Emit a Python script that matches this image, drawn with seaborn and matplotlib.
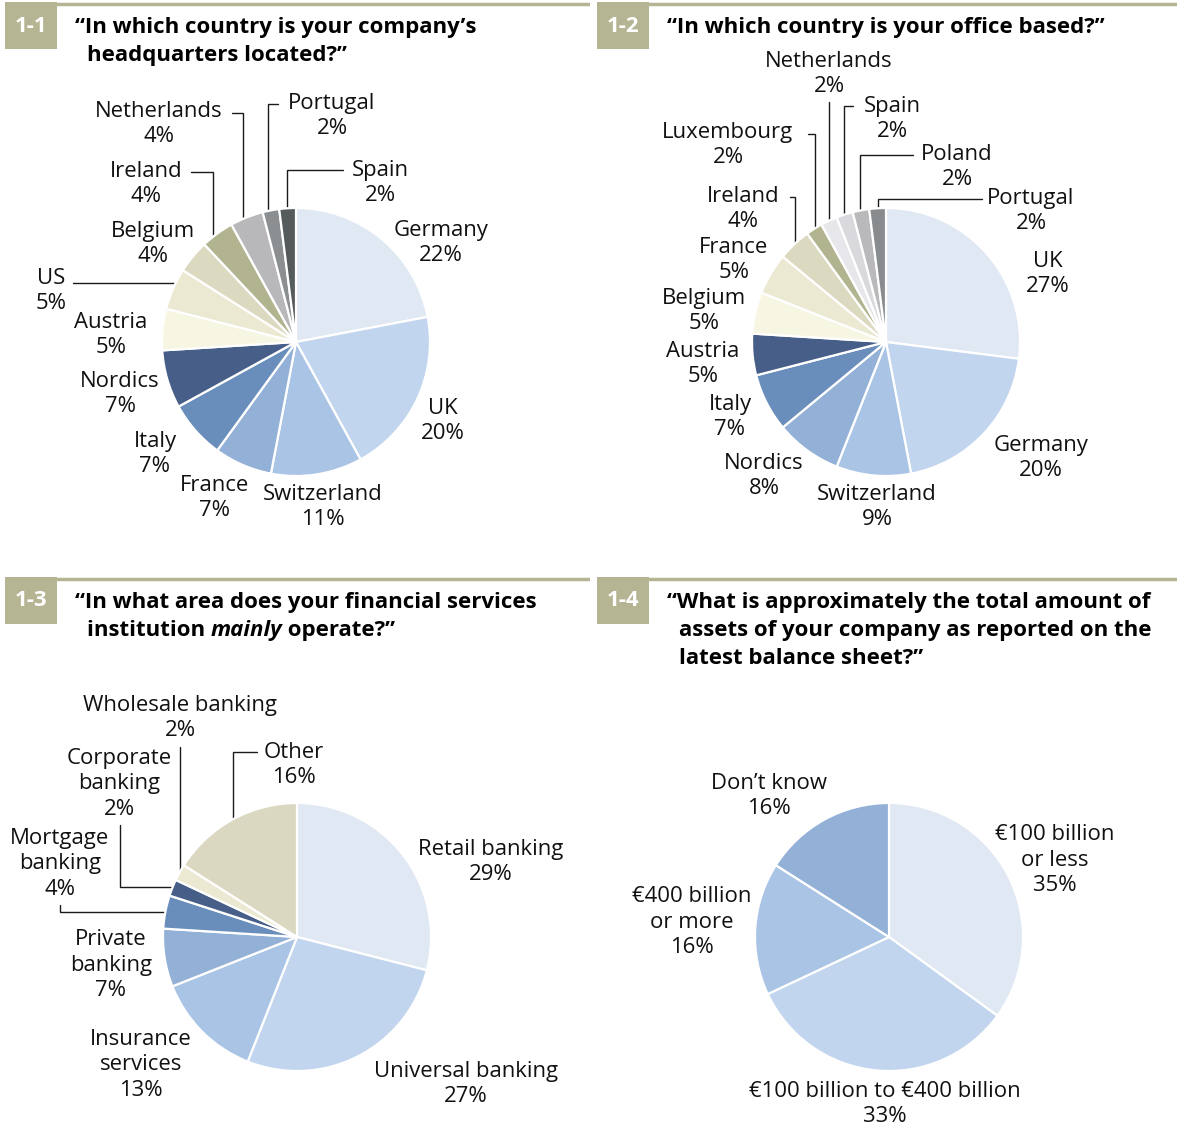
import numpy as np
import matplotlib
matplotlib.use("Agg")
import matplotlib.pyplot as plt
from matplotlib.patches import Rectangle
import seaborn as sns

W, H = 1177, 1128

sns.set_theme(style="white")
plt.rcParams["font.family"] = ["Open Sans", "DejaVu Sans"]

# ---- data -----------------------------------------------------------------
# 1-1 headquarters location
hq_countries = ["Germany", "UK", "Switzerland", "France", "Italy", "Nordics",
                "Austria", "US", "Belgium", "Ireland", "Netherlands",
                "Portugal", "Spain"]
hq_share = [22, 20, 11, 7, 7, 7, 5, 5, 4, 4, 4, 2, 2]

# 1-2 office location
office_countries = ["UK", "Germany", "Switzerland", "Nordics", "Italy",
                    "Austria", "Belgium", "France", "Ireland", "Luxembourg",
                    "Netherlands", "Spain", "Poland", "Portugal"]
office_share = [27, 20, 9, 8, 7, 5, 5, 5, 4, 2, 2, 2, 2, 2]

# 1-3 main area of operation
area_labels = ["Retail banking", "Universal banking", "Insurance\nservices",
               "Private\nbanking", "Mortgage\nbanking", "Corporate\nbanking",
               "Wholesale banking", "Other"]
area_share = [29, 27, 13, 7, 4, 2, 2, 16]

# 1-4 total assets
asset_labels = ["€100 billion\nor less", "€100 billion to €400 billion",
                "€400 billion\nor more", "Don’t know"]
asset_share = [35, 33, 16, 16]

# ---- styling --------------------------------------------------------------
B1, B2, B3, B4, B5, B6 = "#dfe8f3", "#c1d5ee", "#aac4e5", "#93b0d7", "#6a8ebb", "#475f88"
C1, C2, C3, OL = "#f7f6e2", "#ebe9d2", "#dbd9c0", "#b2b490"
KHAKI = "#b5b593"

hq_colors = [B1, B2, B3, B4, B5, B6, C1, C2, C3, OL, "#b8b8bb", "#8b8f92", "#555b5c"]
office_colors = [B1, B2, B3, B4, B5, B6, C1, C2, C3, OL,
                 "#e7e7eb", "#d9d9dd", "#b9b9bc", "#888c8f"]
area_colors = [B1, B2, B3, B4, B5, B6, C2, "#dad8c0"]
asset_colors = [B1, B2, B3, B4]

LABEL_FS = 15.9
TITLE_FS = 16.0
RADIUS = 134

fig = plt.figure(figsize=(W / 100, H / 100), dpi=100)

# quadrant boxes in pixel coordinates (x0, x1, y0, y1), y measured downward
quads = [(0, 590, 0, 564), (590, W, 0, 564), (0, 590, 564, H), (590, W, 564, H)]


def make_ax(q):
    x0, x1, y0, y1 = q
    ax = fig.add_axes([x0 / W, 1 - y1 / H, (x1 - x0) / W, (y1 - y0) / H])
    return ax


def finish(ax, q):
    x0, x1, y0, y1 = q
    ax.set_xlim(x0, x1)
    ax.set_ylim(H - y1, H - y0)
    ax.set_aspect("auto")
    ax.axis("off")


def Y(y):
    return H - y


def header(ax, num, lines, x_box, y_top):
    ax.add_patch(Rectangle((x_box, Y(y_top + 47)), 52, 47, color=KHAKI, lw=0, zorder=1))
    ax.plot([x_box, x_box + 590], [Y(y_top + 1.5)] * 2, color=KHAKI, lw=2.5,
            solid_capstyle="butt", zorder=1)
    ax.text(x_box + 26, Y(y_top + 24), num, color="white", fontsize=16,
            fontweight="bold", ha="center", va="center")
    for i, parts in enumerate(lines):
        x = x_box + 70 if i == 0 else x_box + 82
        base = Y(y_top + 31 + 28 * i)
        prev = None
        for txt, style in parts:
            kw = dict(fontsize=TITLE_FS, fontweight="bold", color="black",
                      fontstyle=style)
            if prev is None:
                prev = ax.text(x, base, txt, ha="left", va="baseline", **kw)
            else:
                prev = ax.annotate(txt, xy=(1, 0), xycoords=prev, ha="left",
                                   va="bottom", **kw)


def pie(ax, values, colors, cx, cy):
    ax.pie(values, colors=colors, startangle=90, counterclock=False,
           center=(cx, Y(cy)), radius=RADIUS,
           wedgeprops=dict(edgecolor="white", linewidth=1.6))


def labels(ax, names, values, positions):
    for name, v, (x, y) in zip(names, values, positions):
        ax.text(x, Y(y + 1), f"{name}\n{v}%", ha="center", va="center",
                multialignment="center", fontsize=LABEL_FS, linespacing=1.3,
                color="#111111")


def leader(ax, pts, cx, cy, end):
    """Polyline from a label to the pie rim; the last leg runs vertically
    ('v') or horizontally ('h') until it meets the circle."""
    lx, ly = pts[-1]
    if end == "v":
        stop = (lx, cy - np.sqrt(RADIUS ** 2 - (lx - cx) ** 2))
    else:
        stop = (cx - np.sqrt(RADIUS ** 2 - (ly - cy) ** 2), ly)
    xs = [p[0] for p in pts] + [stop[0]]
    ys = [Y(p[1]) for p in pts] + [Y(stop[1])]
    ax.plot(xs, ys, color="#1a1a1a", lw=1.0, solid_joinstyle="miter", zorder=0)


# ---- 1-1 ------------------------------------------------------------------
ax = make_ax(quads[0])
cx, cy = 296, 342
pie(ax, hq_share, hq_colors, cx, cy)
labels(ax, hq_countries, hq_share,
       [(441, 242), (443, 420), (323, 506), (215, 497), (155, 453), (120, 393),
        (111, 334), (51, 290), (153, 243), (146, 183), (159, 123), (332, 115),
        (380, 182)])
leader(ax, [(232, 113), (243, 113)], cx, cy, "v")
leader(ax, [(278, 104), (268, 104)], cx, cy, "v")
leader(ax, [(343, 170), (287, 170)], cx, cy, "v")
leader(ax, [(191, 172), (213, 172)], cx, cy, "v")
leader(ax, [(73, 283)], cx, cy, "h")
header(ax, "1-1", [[("“In which country is your company’s", "normal")],
                   [("headquarters located?”", "normal")]], 5, 2)
finish(ax, quads[0])

# ---- 1-2 ------------------------------------------------------------------
ax = make_ax(quads[1])
cx, cy = 886, 342
pie(ax, office_share, office_colors, cx, cy)
labels(ax, office_countries, office_share,
       [(1048, 273), (1041, 457), (877, 506), (764, 475), (730, 416),
        (703, 363), (704, 310), (734, 259), (743, 208), (728, 144),
        (829, 73), (892, 118), (957, 166), (1031, 210)])
leader(ax, [(829, 102)], cx, cy, "v")
leader(ax, [(853, 106), (844, 106)], cx, cy, "v")
leader(ax, [(808, 134), (815, 134)], cx, cy, "v")
leader(ax, [(913, 155), (860, 155)], cx, cy, "v")
leader(ax, [(982, 199), (878, 199)], cx, cy, "v")
leader(ax, [(790, 197), (795, 197)], cx, cy, "v")
header(ax, "1-2", [[("“In which country is your office based?”", "normal")]], 597, 2)
finish(ax, quads[1])

# ---- 1-3 ------------------------------------------------------------------
ax = make_ax(quads[2])
cx, cy = 297, 937
pie(ax, area_share, area_colors, cx, cy)
labels(ax, area_labels, area_share,
       [(491, 861), (466, 1083), (141, 1064), (111, 964), (60, 863),
        (119, 783), (180, 717), (294, 764)])
leader(ax, [(180, 747)], cx, cy, "v")
leader(ax, [(120, 825), (120, 887)], cx, cy, "h")
leader(ax, [(60, 905), (60, 912)], cx, cy, "h")
leader(ax, [(257, 752), (233, 752)], cx, cy, "v")
header(ax, "1-3", [[("“In what area does your financial services", "normal")],
                   [("institution ", "normal"), ("mainly", "italic"),
                    (" operate?”", "normal")]], 5, 577)
finish(ax, quads[2])

# ---- 1-4 ------------------------------------------------------------------
ax = make_ax(quads[3])
cx, cy = 889, 937
pie(ax, asset_share, asset_colors, cx, cy)
labels(ax, asset_labels, asset_share,
       [(1055, 859), (885, 1103), (692, 921), (769, 795)])
header(ax, "1-4", [[("“What is approximately the total amount of", "normal")],
                   [("assets of your company as reported on the", "normal")],
                   [("latest balance sheet?”", "normal")]], 597, 577)
finish(ax, quads[3])

fig.savefig("out.png", dpi=100, facecolor="white")
